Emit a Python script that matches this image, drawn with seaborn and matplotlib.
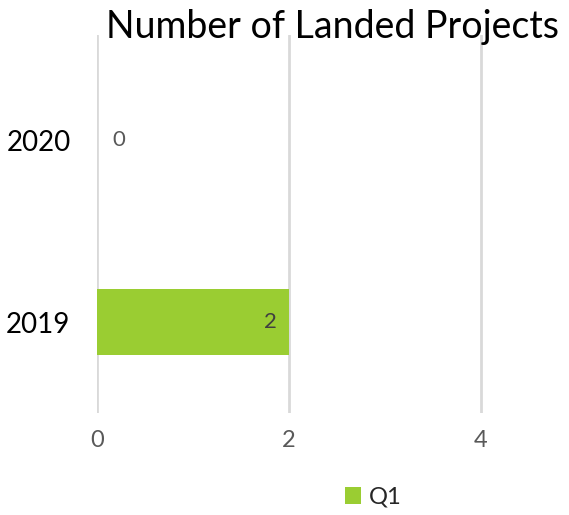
import matplotlib
matplotlib.use('Agg')
import matplotlib.pyplot as plt
import seaborn as sns
import pandas as pd

years = ['2020', '2019']
projects = [0, 2]
quarter = ['Q1', 'Q1']
x_ticks = [0, 2, 4]

GREEN = '#9ACD32'

sns.set_theme(style='white')
plt.rcParams['font.family'] = ['Lato', 'DejaVu Sans']

df = pd.DataFrame({'year': years, 'projects': projects, 'quarter': quarter})

fig = plt.figure(figsize=(5.69, 5.15), dpi=100)
ax = fig.add_axes([97 / 569, 102 / 515, 1 - 97 / 569, 378 / 515])

sns.barplot(data=df, y='year', x='projects', hue='quarter', order=years,
            palette=[GREEN], width=0.36, dodge=False, orient='h', ax=ax,
            saturation=1, linewidth=0, edgecolor='none')

ax.set_xlim(0, 472 / 96)
ax.set_ylim(1.5, -0.577)
ax.set_xticks(x_ticks)
ax.set_xticklabels([str(t) for t in x_ticks], fontsize=17, color='#595959')
ax.tick_params(axis='y', labelsize=20, labelcolor='black', length=0, pad=19)
ax.tick_params(axis='x', length=0, pad=12)
ax.set_xlabel('')
ax.set_ylabel('')
ax.grid(axis='x', color='#D9D9D9', linewidth=2)
ax.set_axisbelow(True)
for s in ax.spines.values():
    s.set_visible(False)

# data labels
for i, v in enumerate(projects):
    if v > 0:
        ax.text(v - 0.13, i, str(v), ha='right', va='center', fontsize=16,
                color='#404040')
    else:
        ax.text(0.16, i, str(v), ha='left', va='center', fontsize=16,
                color='#595959')

fig.text(332 / 569, 1 - 27 / 515, 'Number of Landed Projects', ha='center', va='center',
         fontsize=27, color='black')

handles, labels = ax.get_legend_handles_labels()
ax.legend_.remove()
fig.legend(handles, labels, loc='center', bbox_to_anchor=(373 / 569, 1 - 497 / 515),
           frameon=False, fontsize=17, handlelength=0.7, handleheight=0.7,
           handletextpad=0.3)

fig.savefig('out.png', dpi=100)
